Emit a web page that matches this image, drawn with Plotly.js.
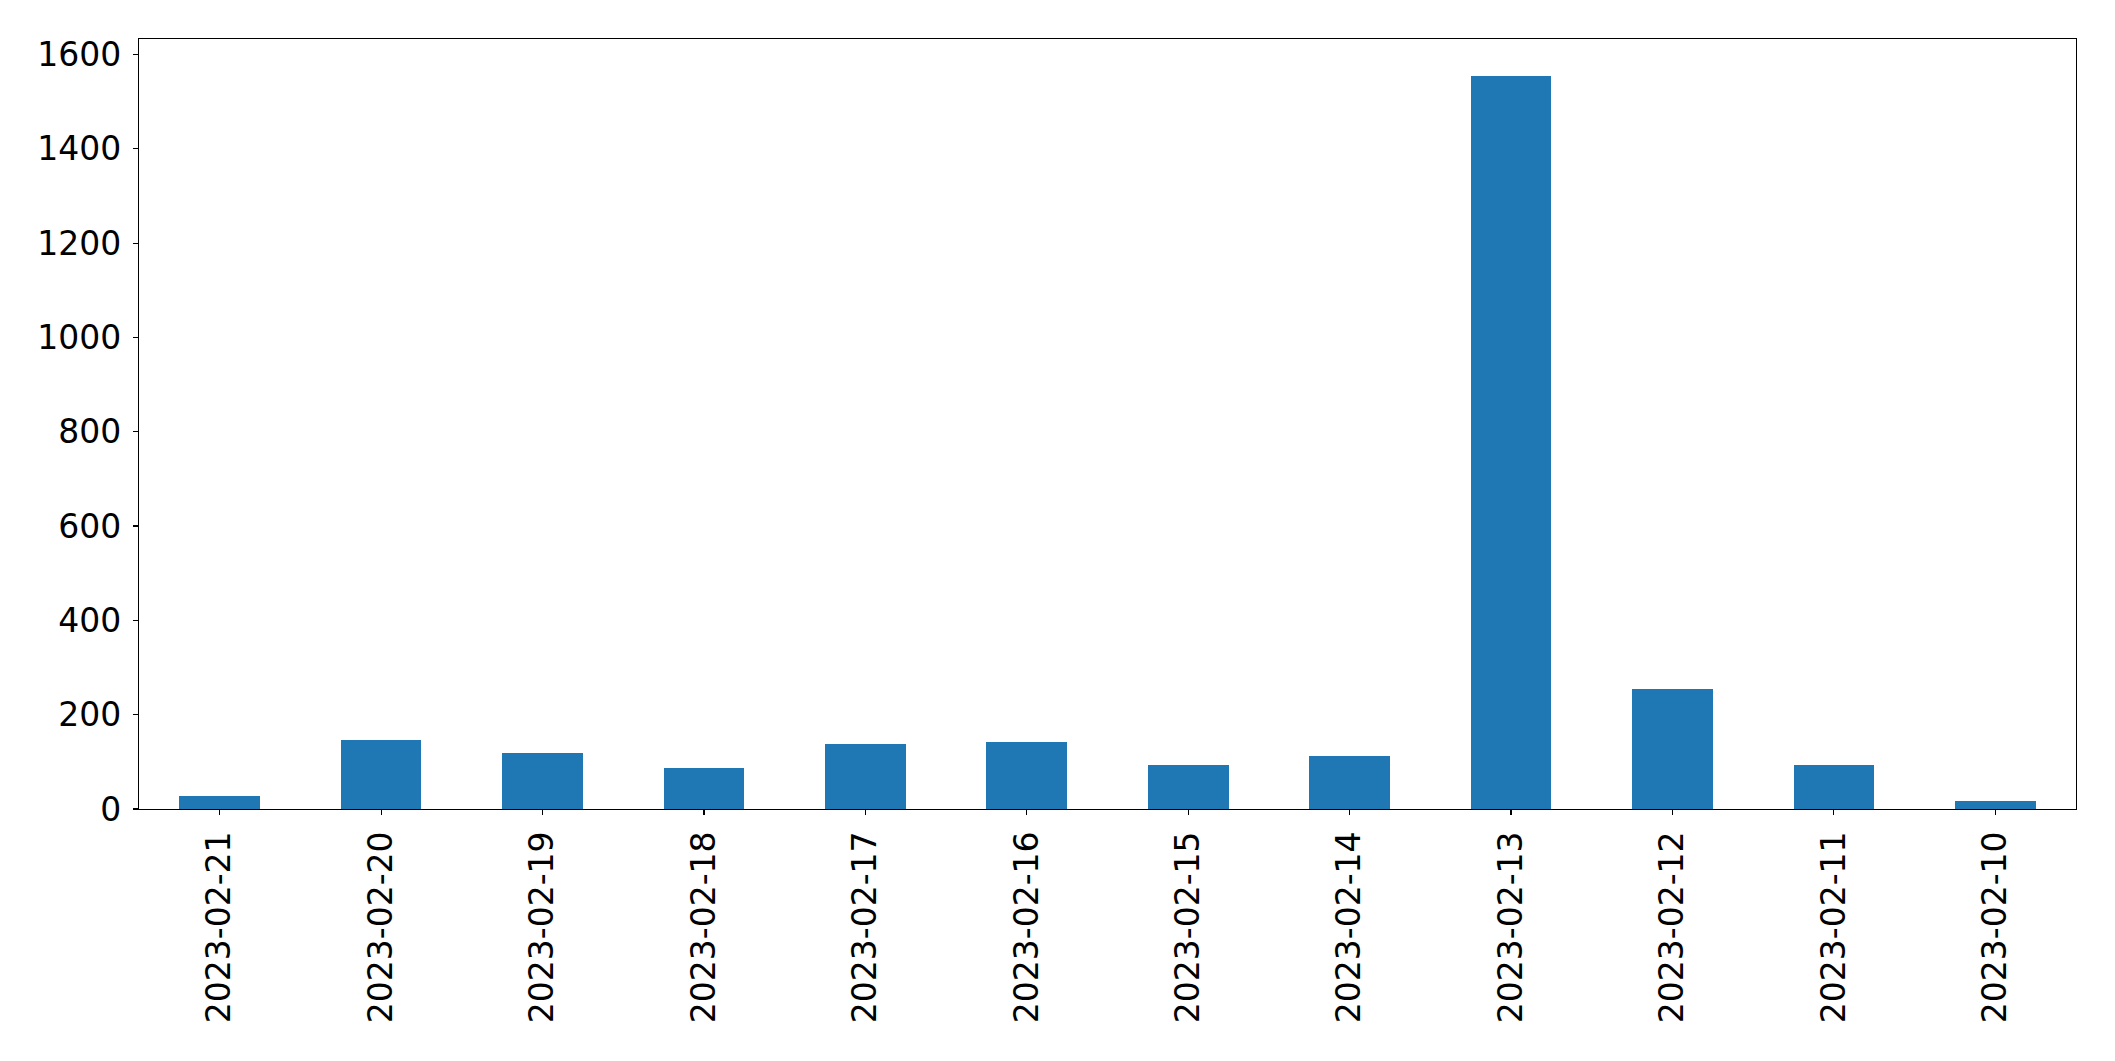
<!DOCTYPE html>
<html>
<head>
<meta charset="utf-8">
<script src="https://cdn.plot.ly/plotly-3.0.1.min.js"></script>
<style>html,body{margin:0;padding:0;background:#fff;}#chart{width:2115px;height:1061px;}</style>
</head>
<body>
<div id="chart"></div>
<script>
const dates = ["2023-02-21","2023-02-20","2023-02-19","2023-02-18","2023-02-17","2023-02-16","2023-02-15","2023-02-14","2023-02-13","2023-02-12","2023-02-11","2023-02-10"];
const counts = [28, 146, 119, 87, 138, 142, 93, 112, 1555, 255, 93, 17];
const yTicks = [0, 200, 400, 600, 800, 1000, 1200, 1400, 1600];

const font = {family: "DejaVu Sans", size: 33, color: "#000"};
const trace = {
  type: "bar",
  x: dates,
  y: counts,
  width: 0.5,
  marker: {color: "#1f77b4", line: {width: 0}},
  hoverinfo: "x+y"
};
const layout = {
  width: 2115, height: 1061,
  margin: {l: 139, r: 39, t: 39, b: 252, pad: 0},
  paper_bgcolor: "#fff", plot_bgcolor: "#fff",
  showlegend: false,
  font: font,
  bargap: 0,
  xaxis: {
    type: "category",
    range: [-0.5, 11.5],
    tickangle: -90,
    ticks: "outside", ticklen: 5, tickwidth: 1.2, tickcolor: "#000",
    showline: true, linecolor: "#000", linewidth: 1.2, mirror: true,
    showgrid: false, zeroline: false,
    tickfont: font,
    ticklabelstandoff: 3
  },
  yaxis: {
    range: [0, 1633],
    tickvals: yTicks,
    ticktext: yTicks.map(String),
    ticks: "outside", ticklen: 5, tickwidth: 1.2, tickcolor: "#000",
    showline: true, linecolor: "#000", linewidth: 1.2, mirror: true,
    showgrid: false, zeroline: false,
    tickfont: font,
    ticklabelstandoff: 5
  }
};
Plotly.newPlot("chart", [trace], layout, {displayModeBar: false, staticPlot: true});
</script>
</body>
</html>
